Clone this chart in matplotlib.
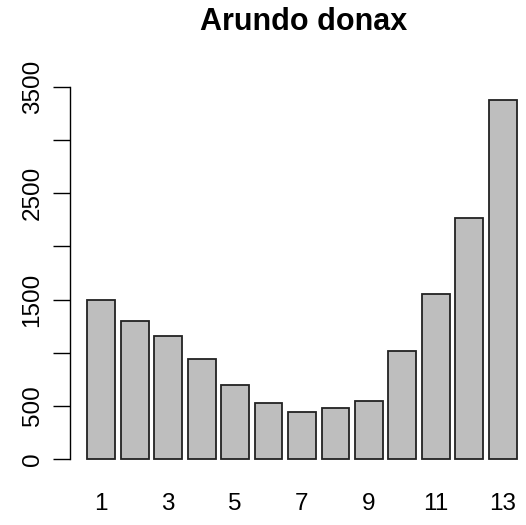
import matplotlib
matplotlib.use("Agg")
import matplotlib.pyplot as plt
import numpy as np

plt.rcParams['font.family'] = ['Liberation Sans', 'DejaVu Sans']

# data
months = np.arange(1, 14)
values = [1500, 1300, 1160, 940, 700, 530, 440, 480, 545, 1020, 1550, 2265, 3380]
xlabels = ['1', '', '3', '', '5', '', '7', '', '9', '', '11', '', '13']
yticks = [0, 500, 1000, 1500, 2000, 2500, 3000, 3500]
ylabels = ['0', '500', '', '1500', '', '2500', '', '3500']

W, H = 526, 525
fig = plt.figure(figsize=(W / 100, H / 100), dpi=100)

# R barplot style: width 1, space 0.2
centers = 0.7 + 1.2 * (months - 1)
xlo, xhi = 0.2, centers[-1] + 0.5
pad = 0.04 * (xhi - xlo)
ymax = max(values)
ypad = 0.04 * ymax

# axes placed in pixel coords
left_px, right_px = 70, 534
top_px, bot_px = 85.4, 473.4
ax = fig.add_axes([left_px / W, 1 - bot_px / H, (right_px - left_px) / W, (bot_px - top_px) / H])
ax.set_xlim(xlo - pad, xhi + pad)
ax.set_ylim(-ypad, ymax + ypad)

ax.bar(centers, values, width=1, color='#bebebe', edgecolor='#222222', linewidth=1.3)

for s in ax.spines.values():
    s.set_visible(False)

# y axis line drawn like R (from first to last tick)
ax.plot([xlo - pad, xlo - pad], [0, 3500], color='black', lw=1, clip_on=False)
ax.set_yticks(yticks)
ax.set_yticklabels(ylabels, rotation=90, va='center', fontsize=17.5)
ax.tick_params(axis='y', length=12, width=1, pad=7)

ax.set_xticks(centers)
ax.set_xticklabels(xlabels, fontsize=17.5)
ax.tick_params(axis='x', length=0, pad=14)

fig.text(304 / W, 1 - 22 / H, 'Arundo donax',
         ha='center', va='center', fontsize=22, fontweight='bold')

fig.savefig('out.png', dpi=100)
